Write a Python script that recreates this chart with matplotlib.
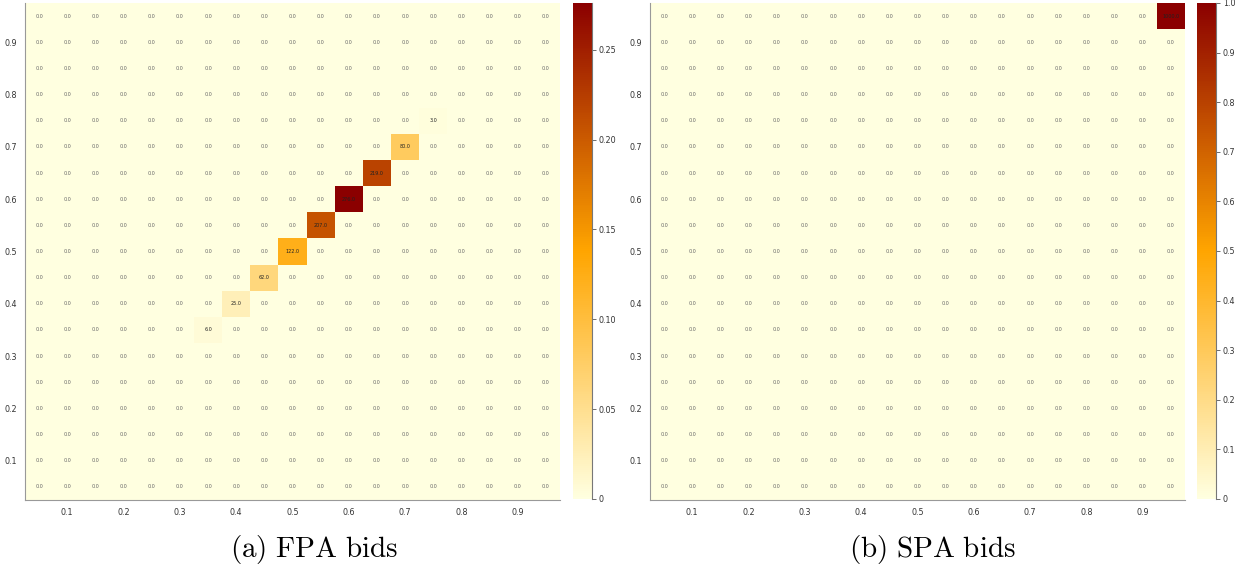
import numpy as np
import matplotlib
matplotlib.use("Agg")
import matplotlib.pyplot as plt
from matplotlib.colors import LinearSegmentedColormap

# grid of bid values (cell centres)
bid_levels = [round(0.05 * (i + 1), 2) for i in range(19)]
tick_vals = [0.1, 0.2, 0.3, 0.4, 0.5, 0.6, 0.7, 0.8, 0.9]
tick_labels = ["0.1", "0.2", "0.3", "0.4", "0.5", "0.6", "0.7", "0.8", "0.9"]

# FPA: non-zero cells (x bid, y bid, count)
fpa_x = [0.35, 0.40, 0.45, 0.50, 0.55, 0.60, 0.65, 0.70, 0.75]
fpa_y = [0.35, 0.40, 0.45, 0.50, 0.55, 0.60, 0.65, 0.70, 0.75]
fpa_counts = [6, 25, 62, 122, 207, 276, 219, 80, 3]

# SPA: non-zero cells
spa_x = [0.95]
spa_y = [0.95]
spa_counts = [1000]

fpa_cbar_ticks = [0, 0.05, 0.10, 0.15, 0.20, 0.25]
fpa_cbar_labels = ["0", "0.05", "0.10", "0.15", "0.20", "0.25"]
spa_cbar_ticks = [0, 0.1, 0.2, 0.3, 0.4, 0.5, 0.6, 0.7, 0.8, 0.9, 1.0]
spa_cbar_labels = ["0", "0.1", "0.2", "0.3", "0.4", "0.5", "0.6", "0.7", "0.8", "0.9", "1.0"]

captions = ["(a) FPA bids", "(b) SPA bids"]

plt.rcParams["mathtext.fontset"] = "cm"

cmap = LinearSegmentedColormap.from_list("heat", ["#FFFFE0", "#FFA500", "#8B0000"])


def build(xs, ys, cs):
    n = len(bid_levels)
    m = np.zeros((n, n))
    for x, y, c in zip(xs, ys, cs):
        i = bid_levels.index(round(y, 2))
        j = bid_levels.index(round(x, 2))
        m[i, j] = c
    return m


W, H = 1245, 575
fig = plt.figure(figsize=(W / 100, H / 100), dpi=100)


def rect(x0, y0, x1, y1):
    return [x0 / W, 1 - y1 / H, (x1 - x0) / W, (y1 - y0) / H]


edges = np.array([b - 0.025 for b in bid_levels] + [bid_levels[-1] + 0.025])

panels = [
    (build(fpa_x, fpa_y, fpa_counts), rect(25, 3, 560, 500), rect(573, 3, 592, 499),
     fpa_cbar_ticks, fpa_cbar_labels, 314),
    (build(spa_x, spa_y, spa_counts), rect(650, 3, 1185, 500), rect(1197, 3, 1216, 499),
     spa_cbar_ticks, spa_cbar_labels, 932),
]

for k, (counts, axr, cbr, cts, ctl, capx) in enumerate(panels):
    total = counts.sum()
    frac = counts / total
    ax = fig.add_axes(axr)
    cax = fig.add_axes(cbr)
    mesh = ax.pcolormesh(edges, edges, frac, cmap=cmap, vmin=0, vmax=frac.max(),
                         edgecolor="none")
    for i, yv in enumerate(bid_levels):
        for j, xv in enumerate(bid_levels):
            ax.text(xv, yv, f"{counts[i, j]:.1f}", ha="center", va="center",
                    fontsize=3.5, color="#666666" if counts[i, j] == 0 else "#222222")
    ax.set_xlim(edges[0], edges[-1])
    ax.set_ylim(edges[0], edges[-1])
    ax.set_xticks(tick_vals, tick_labels)
    ax.set_yticks(tick_vals, tick_labels)
    ax.tick_params(axis="y", length=0, labelsize=5.8, labelcolor="#333333", pad=6)
    ax.tick_params(axis="x", length=0, labelsize=5.8, labelcolor="#333333", pad=6)
    for s in ["top", "right"]:
        ax.spines[s].set_visible(False)
    for s in ["left", "bottom"]:
        ax.spines[s].set_color("#999999")
        ax.spines[s].set_linewidth(0.8)

    cb = fig.colorbar(mesh, cax=cax)
    cb.outline.set_visible(False)
    cb.set_ticks(cts, labels=ctl)
    cax.tick_params(labelsize=5.8, labelcolor="#333333", length=3, width=0.6,
                    color="#555555", pad=2)
    cax.set_ylim(0, frac.max())
    line_x = cbr[0] + cbr[2]
    fig.add_artist(plt.Line2D([line_x, line_x], [cbr[1], cbr[1] + cbr[3]],
                              transform=fig.transFigure, color="#777777", lw=0.8))

    cap = captions[k]
    fig.text(capx / W, 1 - 549 / H, r"$\mathrm{" + cap.replace(" ", r"\ ") + "}$",
             ha="center", va="center", fontsize=21)

fig.savefig("out.png", dpi=100)
